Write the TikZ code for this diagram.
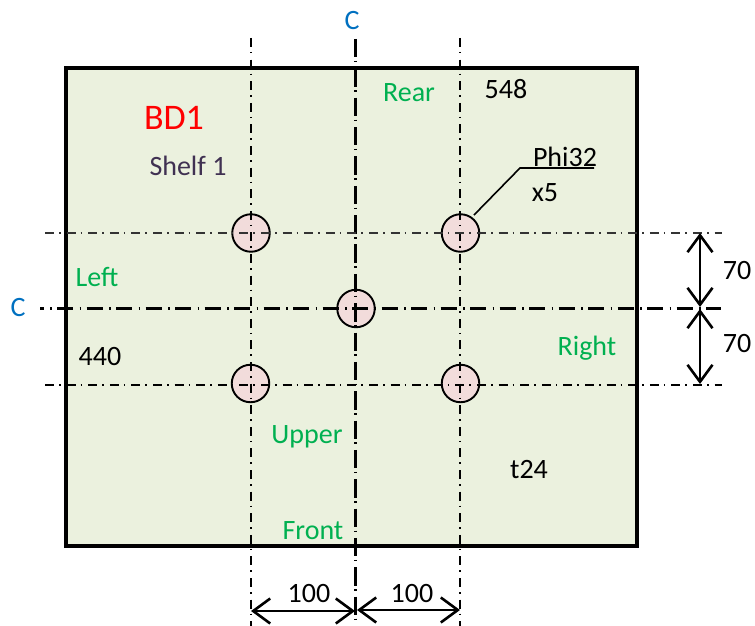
\documentclass[tikz,border=0pt]{standalone}
\usepackage{fontspec}
\setmainfont{Carlito}
\usetikzlibrary{arrows.meta}
\definecolor{plate}{HTML}{EBF1DE}
\definecolor{holefill}{HTML}{F2DCDB}
\definecolor{lbl}{HTML}{00B050}
\definecolor{blueC}{HTML}{0070C0}
\definecolor{shelfc}{HTML}{403152}
\tikzset{
  x=1pt,y=-1pt,
  txt/.style={font=\fontsize{28}{28}\selectfont,inner sep=0pt,text=black},
  grn/.style={txt,text=lbl},
  hole/.style={circle,draw=black,line width=1.9pt,fill=holefill,minimum size=37.5pt,inner sep=0pt},
  clthinv/.style={line width=2.9pt,dash pattern=on 9pt off 5pt on 1.5pt off 6.1pt},
  clmain/.style={line width=3pt,dash pattern=on 18.4pt off 3.5pt on 1.5pt off 5.95pt},
  clmainh/.style={line width=3pt,dash pattern=on 16pt off 6.5pt on 1.5pt off 5.5pt,dash phase=12.3pt},
  clh/.style={line width=1.4pt,draw=black!80,dash pattern=on 9pt off 5pt on 1.5pt off 6.1pt},
  clhb/.style={line width=2.6pt,dash pattern=on 9pt off 5pt on 1.5pt off 6.1pt},
  dimline/.style={line width=2pt,{Straight Barb[length=17pt,width=25pt,line width=2.6pt]}-{Straight Barb[length=17pt,width=25pt,line width=2.6pt]}},
}
\begin{document}
\begin{tikzpicture}
\useasboundingbox (0,0) rectangle (755,626);
\node[draw=black,line width=3.4pt,fill=plate,minimum width=571pt,minimum height=478pt,inner sep=0pt] (plate) at (351.5,307) {};
\node[hole] (h1) at (251,233) {};
\node[hole] (h2) at (460.5,233) {};
\node[hole] (h3) at (356,308.5) {};
\node[hole] (h4) at (250.5,383.5) {};
\node[hole] (h5) at (460.5,383.5) {};
\coordinate (v1t) at (251,38); \coordinate (v1b) at (251,626);
\coordinate (v2t) at (355,39); \coordinate (v2b) at (355,622);
\coordinate (v3t) at (460,38); \coordinate (v3b) at (460,626);
\coordinate (h1l) at (45,233); \coordinate (h1r) at (722,233);
\coordinate (h2l) at (40,308); \coordinate (h2r) at (721,308);
\coordinate (h3l) at (45,385); \coordinate (h3r) at (722,385);
\draw[clthinv] (v1t) -- (v1b);
\draw[clmain] (v2t) -- (v2b);
\draw[clthinv] (v3t) -- (v3b);
\draw[clh] (h1l) -- (h1r);
\draw[clmainh] (h2l) -- (h2r);
\draw[clhb] (h3l) -- (h3r);
\coordinate (a1) at (700,233); \coordinate (a2) at (700,307); \coordinate (a3) at (700,309); \coordinate (a4) at (700,384);
\draw[dimline] (a1) -- (a2);
\draw[dimline] (a3) -- (a4);
\coordinate (b1) at (251,611); \coordinate (b2) at (355,611); \coordinate (b3) at (357,610); \coordinate (b4) at (460,610);
\draw[dimline] (b1) -- (b2);
\draw[dimline] (b3) -- (b4);
\coordinate (lk) at (520,168); \coordinate (lend) at (594,168);
\draw[line width=1.6pt] (h2.north east) ++(-0.5,-4) -- (lk) -- (lend);
\node[txt,text=red,font=\fontsize{36}{36}\selectfont] (bd) at (174,118) {BD1};
\node[txt,text=shelfc] (shelf) at (188,166) {Shelf 1};
\node[grn] (rear) at (409,93) {Rear};
\node[txt] (n548) at (506,89) {548};
\node[txt] (phi) at (565,157) {Phi32};
\node[txt] (x5) at (545,193) {x5};
\node[grn] (left) at (97,277) {Left};
\node[txt] (n440) at (100,357) {440};
\node[grn] (right) at (587,348) {Right};
\node[grn] (upper) at (307,437) {Upper};
\node[txt] (t24) at (529,470) {t24};
\node[grn] (front) at (313,531) {Front};
\node[txt,text=blueC] (c1) at (352,21) {C};
\node[txt,text=blueC] (c2) at (18,308) {C};
\node[txt] (d1) at (737,271) {70};
\node[txt] (d2) at (737,344) {70};
\node[txt] (d3) at (309,593.5) {100};
\node[txt] (d4) at (412,593.5) {100};
\end{tikzpicture}
\end{document}
